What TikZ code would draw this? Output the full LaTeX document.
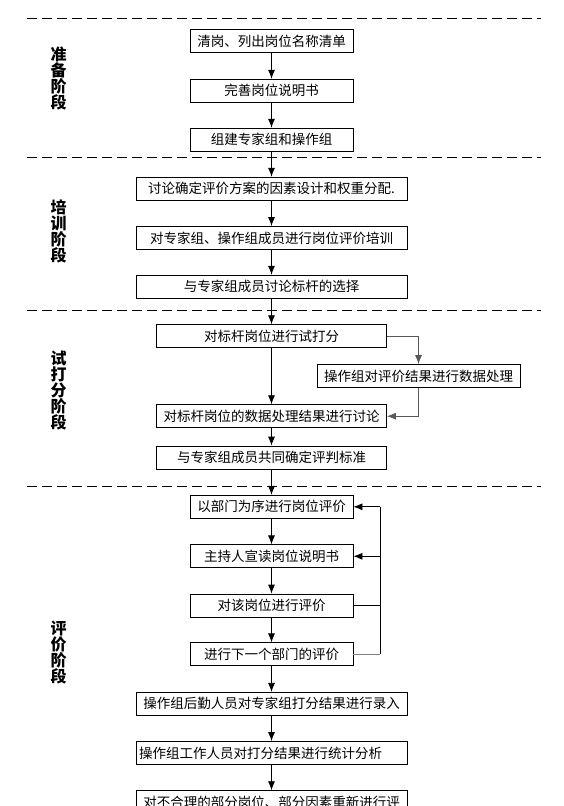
\documentclass[tikz,border=0pt]{standalone}
\usepackage{fontspec}
\setmainfont{Noto Sans CJK SC}
\usetikzlibrary{arrows.meta}

\begin{document}
\begin{tikzpicture}[x=1pt,y=-1pt,>={Latex[length=9pt,width=7pt]},
  every node/.style={font=\fontsize{13.5pt}{14pt}\selectfont},
  box/.style={draw,line width=0.8pt,minimum height=23pt,inner sep=0pt},
  stage/.style={font=\fontsize{16pt}{16pt}\selectfont\bfseries,align=center,inner sep=0pt},
  sep/.style={line width=0.8pt,dash pattern=on 10pt off 5pt},
  flow/.style={->,line width=0.8pt}]

\fill[white] (0,0) rectangle (564,806);
\useasboundingbox (0,0) rectangle (564,806);

\def\cx{271.5}

% stage borders
\foreach \y in {18.3,157.7,310,486}
  \draw[sep] (27,\y) -- (541,\y);

\node[stage] (s1) at (58.7,78.3) {准\\备\\阶\\段};
\node[stage] (s2) at (58.7,231.5) {培\\训\\阶\\段};
\node[stage] (s3) at (58.7,391) {试\\打\\分\\阶\\段};
\node[stage] (s4) at (58.7,652.5) {评\\价\\阶\\段};

\node[box,minimum width=163pt] (b1) at (\cx,41.3) {清岗、列出岗位名称清单};
\node[box,minimum width=163pt] (b2) at (\cx,90.7) {完善岗位说明书};
\node[box,minimum width=163pt] (b3) at (\cx,139.7) {组建专家组和操作组};

\node[box,minimum width=271pt] (b4) at (\cx,188.7) {讨论确定评价方案的因素设计和权重分配.};
\node[box,minimum width=271pt] (b5) at (\cx,238) {对专家组、操作组成员进行岗位评价培训};
\node[box,minimum width=271pt] (b6) at (\cx,286.7) {与专家组成员讨论标杆的选择};

\node[box,minimum width=230pt] (b7) at (\cx,336.2) {对标杆岗位进行试打分};
\node[box,minimum width=203pt] (b8) at (418.5,376) {操作组对评价结果进行数据处理};
\node[box,minimum width=230pt] (b9) at (\cx,416.2) {对标杆岗位的数据处理结果进行讨论};
\node[box,minimum width=230pt] (b10) at (\cx,457.5) {与专家组成员共同确定评判标准};

\node[box,minimum width=163pt] (b11) at (\cx,506.8) {以部门为序进行岗位评价};
\node[box,minimum width=163pt] (b12) at (\cx,556.3) {主持人宣读岗位说明书};
\node[box,minimum width=163pt] (b13) at (\cx,605.5) {对该岗位进行评价};
\node[box,minimum width=163pt] (b14) at (\cx,654.3) {进行下一个部门的评价};
\node[box,minimum width=271pt] (b15) at (\cx,703.8) {操作组后勤人员对专家组打分结果进行录入};
\node[box,text width=271pt,align=left] (b16) at (\cx,753) {\hspace*{3pt}操作组工作人员对打分结果进行统计分析};
\node[box,minimum width=271pt] (b17) at (\cx,802.2) {对不合理的部分岗位、部分因素重新进行评};

\foreach \a/\b in {b1/b2,b2/b3,b3/b4,b4/b5,b5/b6,b6/b7,b7/b9,b9/b10,b10/b11,
  b11/b12,b12/b13,b13/b14,b14/b15,b15/b16,b16/b17}
  \draw[flow] (\a) -- (\b);

% trial scoring side branch
\draw[flow,gray!70!black] (b7.east) -| (b8.north);
\draw[flow,gray!70!black] (b8.south) |- (b9.east);

% loop back per department
\coordinate (loop) at (380,0);
\draw[line width=0.8pt] (b13.east) -- (b13.east -| loop);
\draw[line width=0.8pt,gray] (b14.east) -- (b14.east -| loop);
\draw[line width=0.8pt] (b14.east -| loop) -- (b11.east -| loop);
\draw[flow] (b11.east -| loop) -- (b11.east);
\draw[flow] (b12.east -| loop) -- (b12.east);

\end{tikzpicture}
\end{document}
